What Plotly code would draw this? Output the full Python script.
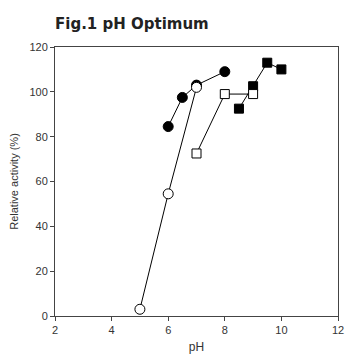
import plotly.graph_objects as go

ph_fc = [6, 6.5, 7, 8]
act_fc = [84.5, 97.5, 103, 109]
ph_oc = [5, 6, 7]
act_oc = [3, 54.5, 102]
ph_os = [7, 8, 9]
act_os = [72.5, 99, 99]
ph_fs = [8.5, 9, 9.5, 10]
act_fs = [92.5, 102.5, 113, 110]

fig = go.Figure()
line = dict(color="black", width=1)
fig.add_trace(go.Scatter(x=ph_fc, y=act_fc, mode="lines+markers", line=line,
                         marker=dict(symbol="circle", size=10, color="black", line=dict(color="black", width=1))))
fig.add_trace(go.Scatter(x=ph_oc, y=act_oc, mode="lines+markers", line=line,
                         marker=dict(symbol="circle", size=10, color="white", line=dict(color="black", width=1))))
fig.add_trace(go.Scatter(x=ph_fs, y=act_fs, mode="lines+markers", line=line,
                         marker=dict(symbol="square", size=9, color="black", line=dict(color="black", width=1))))
fig.add_trace(go.Scatter(x=ph_os, y=act_os, mode="lines+markers", line=line,
                         marker=dict(symbol="square", size=9, color="white", line=dict(color="black", width=1))))

font = "Liberation Sans, Arial"
axis_common = dict(showline=True, linecolor="#444", linewidth=1, mirror=True, showgrid=False,
                   zeroline=False, ticks="outside", ticklen=4, tickcolor="#444", automargin=False,
                   tickfont=dict(family=font, size=11, color="#333"))
fig.update_layout(
    width=346, height=354,
    margin=dict(l=55, r=8, t=47, b=38),
    paper_bgcolor="white", plot_bgcolor="white",
    showlegend=False,
    xaxis=dict(range=[2, 12], tickvals=[2, 4, 6, 8, 10, 12], title=dict(text="pH", standoff=12,
               font=dict(family=font, size=12, color="#333")), **axis_common),
    yaxis=dict(range=[0, 120], tickvals=[0, 20, 40, 60, 80, 100, 120], title=dict(text="Relative activity (%)", standoff=8,
               font=dict(family=font, size=11, color="#333")), **axis_common),
)
fig.add_annotation(text="<b>Fig.1 pH Optimum</b>", xref="paper", yref="paper", x=0, y=1,
                   xanchor="left", yanchor="middle", yshift=23, xshift=-2, showarrow=False,
                   font=dict(family="DejaVu Sans", size=15, color="#222"))
fig.write_html("out.html", config={"displayModeBar": False})
with open("out.html") as f:
    html = f.read()
html = html.replace("<body>", '<body style="margin:0;padding:0;overflow:hidden">', 1)
with open("out.html", "w") as f:
    f.write(html)
